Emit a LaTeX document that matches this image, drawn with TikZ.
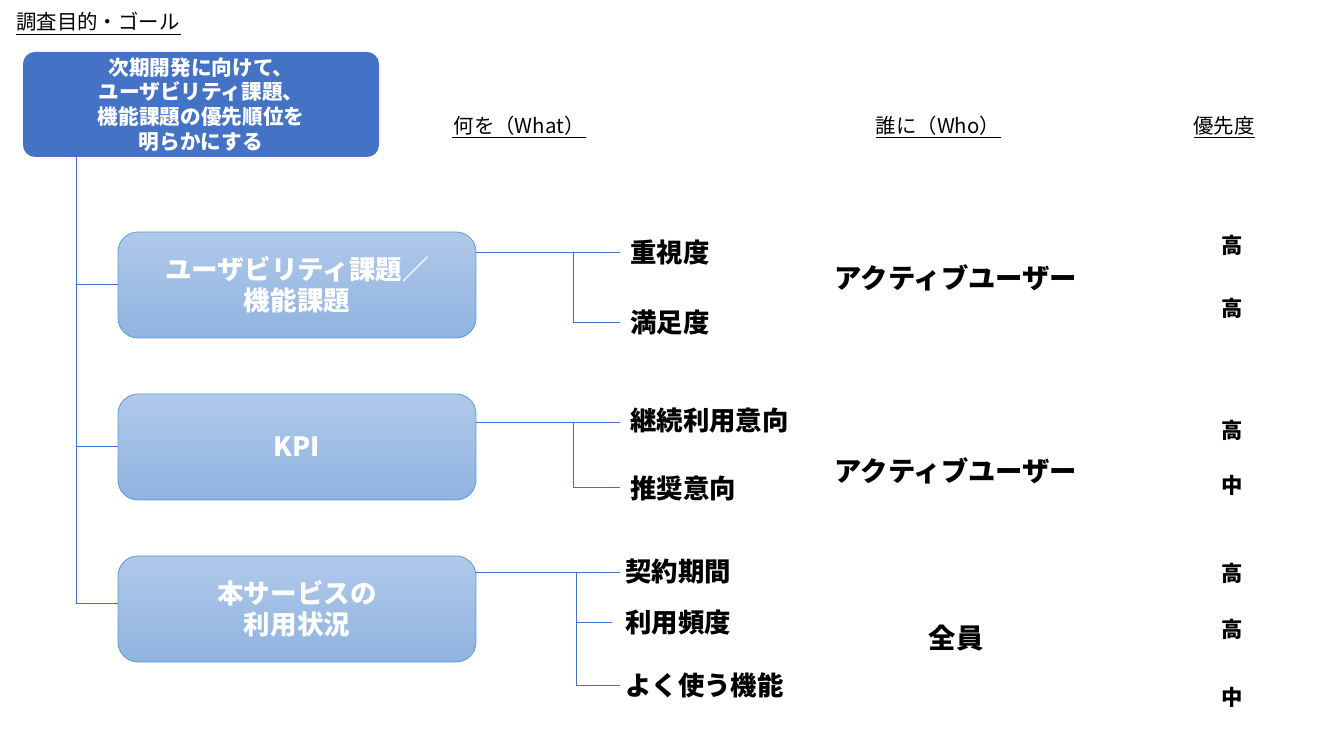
\documentclass[tikz,border=0pt]{standalone}
\usepackage{fontspec}
\setmainfont{Noto Sans CJK JP}
\usepackage{tikz}
\usetikzlibrary{positioning}

\definecolor{goalblue}{HTML}{4472C4}
\definecolor{boxtop}{HTML}{B0C9E9}
\definecolor{boxbot}{HTML}{8FB3E0}
\definecolor{boxline}{HTML}{5B9BD5}
\definecolor{linkblue}{HTML}{4472C4}

\tikzset{
  goalbox/.style={fill=goalblue, rounded corners=9pt, minimum width=267pt, minimum height=78.75pt, text=white, align=center, inner sep=0pt, font=\bfseries\fontsize{15.5}{18.6}\selectfont},
  themebox/.style={draw=boxline, line width=0.6pt, top color=boxtop, bottom color=boxbot, rounded corners=15pt, minimum width=268.5pt, minimum height=79.5pt, text=white, align=center, inner sep=0pt, font=\bfseries\fontsize{19.9}{23.5}\selectfont},
  item/.style={anchor=west, inner sep=0pt, font=\bfseries\fontsize{19.8}{22}\selectfont},
  who/.style={inner sep=0pt, font=\bfseries\fontsize{20.5}{23}\selectfont},
  prio/.style={inner sep=0pt, font=\bfseries\fontsize{16}{19}\selectfont},
  head/.style={inner sep=0pt, font=\fontsize{15.3}{17}\selectfont},
  link/.style={draw=linkblue, line width=0.75pt}
}

\begin{document}
\begin{tikzpicture}[x=0.75pt,y=0.75pt,yscale=-1,xscale=1]
\useasboundingbox (0,0) rectangle (1325,737);

% Text Node
\node[head, anchor=west] (title) at (16,22) {調査目的・ゴール};
\draw[line width=0.6pt] (16,34) -- (181,34);

%Shape: Rounded Rect
\node[goalbox] (goal) at (201,104.5) {次期開発に向けて、\\ユーザビリティ課題、\\機能課題の優先順位を\\明らかにする};

%Shape: Rounded Rect
\node[themebox] (k1) at (297,285) {ユーザビリティ課題／\\機能課題};
\node[themebox] (k2) at (297,447) {KPI};
\node[themebox] (k3) at (297,609) {本サービスの\\利用状況};

% Text Node
\node[head] (hwhat) at (519,126) {何を（What）};
\node[head] (hwho) at (938,126) {誰に（Who）};
\node[head] (hprio) at (1224,126) {優先度};
\draw[line width=0.6pt] (452,137) -- (586,137);
\draw[line width=0.6pt] (876,137) -- (1001,137);
\draw[line width=0.6pt] (1194,137) -- (1255,137);

% Text Node
\node[item] (w1) at (630,252) {重視度};
\node[item] (w2) at (630,323) {満足度};
\node[item] (w3) at (630,421) {継続利用意向};
\node[item] (w4) at (630,488) {推奨意向};
\node[item] (w5) at (625,571) {契約期間};
\node[item] (w6) at (625,623) {利用頻度};
\node[item] (w7) at (625,685) {よく使う機能};

% Text Node
\node[who] (u1) at (956,278) {アクティブユーザー};
\node[who] (u2) at (956,471) {アクティブユーザー};
\node[who] (u3) at (956,638) {全員};

% Text Node
\node[prio] (p1) at (1232,245) {高};
\node[prio] (p2) at (1232,308) {高};
\node[prio] (p3) at (1232,430) {高};
\node[prio] (p4) at (1232,485) {中};
\node[prio] (p5) at (1232,573) {高};
\node[prio] (p6) at (1232,629) {高};
\node[prio] (p7) at (1232,697) {中};

%Straight Lines
\coordinate (t0) at (76,157);
\draw[link] (t0) |- ([yshift=-3.75pt]k3.west);
\draw[link] (t0 |- k1.west) -- (k1.west);
\draw[link] (t0 |- k2.west) -- (k2.west);

%Straight Lines
\coordinate (b1) at (573,253);
\coordinate (b2) at (573,423);
\coordinate (b3) at (576,573);
\draw[link] (k1.east |- b1) -- ([xshift=-7.5pt]w1.west |- b1);
\draw[link] (b1) |- ([xshift=-7.5pt]w2.west);
\draw[link] (k2.east |- b2) -- ([xshift=-7.5pt]w3.west |- b2);
\draw[link] (b2) |- ([xshift=-7.5pt]w4.west);
\draw[link] (k3.east |- b3) -- ([xshift=-3.75pt]w5.west |- b3);
\draw[link] (b3) |- ([xshift=-3.75pt]w7.west);
\draw[link] (b3 |- w6.west) -- ([xshift=-9.75pt]w6.west);

\end{tikzpicture}
\end{document}
